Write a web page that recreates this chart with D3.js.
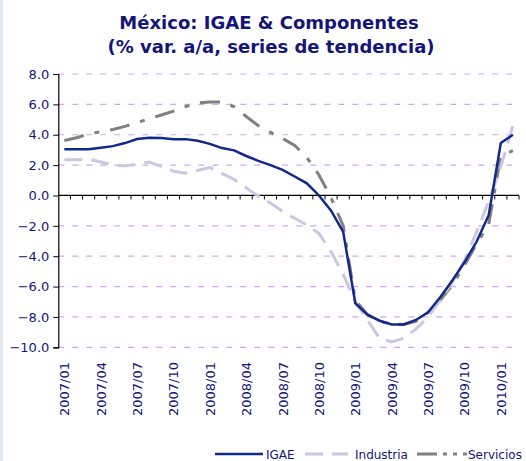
<!DOCTYPE html>
<html>
<head>
<meta charset="utf-8">
<script src="https://cdn.jsdelivr.net/npm/d3@7"></script>
<style>
  body { margin: 0; background: #fff; }
  svg { display: block; }
  text { font-family: Tahoma, "DejaVu Sans", sans-serif; fill: #14147a; }
</style>
</head>
<body>
<script>
// monthly periods, 2007/01 .. 2010/02
const months = [];
for (let yr = 2007; yr <= 2010; yr++) {
  for (let m = 1; m <= 12; m++) {
    if (yr === 2010 && m > 2) break;
    months.push(yr + "/" + String(m).padStart(2, "0"));
  }
}

const igae = [3.05, 3.05, 3.05, 3.15, 3.25, 3.45, 3.72, 3.8, 3.78, 3.71, 3.71, 3.6,
  3.4, 3.12, 2.97, 2.6, 2.28, 2.0, 1.68, 1.25, 0.8, 0.0, -1.0, -2.4,
  -7.1, -7.85, -8.25, -8.5, -8.5, -8.2, -7.7, -6.7, -5.6, -4.4, -3.05, -1.3,
  3.45, 4.0];

const industria = [2.35, 2.35, 2.4, 2.2, 2.0, 1.95, 2.05, 2.2, 1.9, 1.6, 1.47, 1.65,
  1.85, 1.45, 1.05, 0.5, -0.05, -0.5, -1.05, -1.5, -1.95, -2.5, -3.7, -5.2,
  -7.0, -8.2, -9.4, -9.65, -9.4, -8.8, -8.0, -6.9, -5.7, -4.3, -2.4, -0.4,
  1.9, 4.6];

const servicios = [3.62, 3.8, 4.05, 4.2, 4.35, 4.55, 4.8, 5.05, 5.3, 5.55, 5.85, 6.1,
  6.15, 6.15, 5.85, 5.2, 4.6, 4.15, 3.75, 3.3, 2.5, 1.35, -0.15, -2.0,
  -6.9, -7.85, -8.3, -8.45, -8.5, -8.3, -7.7, -6.9, -5.9, -4.6, -3.2, -1.9,
  2.6, 2.95];

const yTicks = [-10, -8, -6, -4, -2, 0, 2, 4, 6, 8];

const series = [
  { name: "IGAE", values: igae, color: "#12288c", width: 2.5, dash: null, legendDash: null },
  { name: "Industria", values: industria, color: "#c8c8e2", width: 3, dash: "18,9", legendDash: "18,9" },
  { name: "Servicios", values: servicios, color: "#808080", width: 3, dash: "20,11,5,11", legendDash: "20,6,4,6,4,6,4" }
];

const width = 526;
const height = 461;
const plotLeft = 58.3, plotRight = 519, plotTop = 74, plotBottom = 347.3;

const svg = d3.select("body").append("svg")
  .attr("width", width)
  .attr("height", height);

// light strip at left edge
svg.append("rect").attr("x", 0).attr("y", 0).attr("width", 3).attr("height", height)
  .attr("fill", "#e2eaf2");

const x = d3.scaleBand().domain(months).range([plotLeft, plotRight]);
const y = d3.scaleLinear().domain([-10, 8]).range([plotBottom, plotTop]);
const xc = d => x(d) + x.bandwidth() / 2;

// title
svg.append("text").attr("x", 269).attr("y", 29).attr("text-anchor", "middle")
  .style("font-size", "18px").style("font-weight", "bold")
  .text("México: IGAE & Componentes");
svg.append("text").attr("x", 271).attr("y", 53).attr("text-anchor", "middle")
  .style("font-size", "18px").style("font-weight", "bold")
  .text("(% var. a/a, series de tendencia)");

// grid lines
svg.append("g").selectAll("line").data(yTicks.filter(d => d !== 0)).join("line")
  .attr("x1", plotLeft).attr("x2", 512)
  .attr("y1", d => y(d)).attr("y2", d => y(d))
  .attr("stroke", "#cfa6f6").attr("stroke-width", 1.2)
  .attr("stroke-dasharray", "6,8");

// y axis
const yAxis = svg.append("g")
  .attr("transform", `translate(${plotLeft},0)`)
  .call(d3.axisLeft(y).tickValues(yTicks).tickFormat(d3.format(".1f")).tickSize(5).tickPadding(4));
yAxis.select(".domain").attr("stroke", "#000").attr("stroke-width", 1.2);
yAxis.selectAll(".tick line").attr("stroke", "#000");
yAxis.selectAll("text").style("font-size", "13px").attr("fill", "#14147a")
  .style("font-family", "Tahoma, 'DejaVu Sans', sans-serif");

// zero axis line with ticks at period boundaries
svg.append("line").attr("x1", plotLeft).attr("x2", plotRight)
  .attr("y1", y(0)).attr("y2", y(0)).attr("stroke", "#000").attr("stroke-width", 1.2);
svg.append("g").selectAll("line").data(months).join("line")
  .attr("x1", d => x(d) + x.bandwidth()).attr("x2", d => x(d) + x.bandwidth())
  .attr("y1", y(0)).attr("y2", y(0) + 4)
  .attr("stroke", "#000");

// x labels, every third month
svg.append("g").selectAll("text").data(months.filter((d, i) => i % 3 === 0)).join("text")
  .attr("transform", d => `translate(${xc(d) + 5},362) rotate(-90)`)
  .attr("text-anchor", "end")
  .style("font-size", "13px")
  .text(d => d);

// series lines
const line = d3.line().x((d, i) => xc(months[i])).y(d => y(d));
svg.append("g").selectAll("path").data(series.slice().reverse()).join("path")
  .attr("d", d => line(d.values))
  .attr("fill", "none")
  .attr("stroke", d => d.color)
  .attr("stroke-width", d => d.width)
  .attr("stroke-dasharray", d => d.dash);

// legend
const legendX = [215, 305, 417];
const legend = svg.append("g").selectAll("g").data(series).join("g")
  .attr("transform", (d, i) => `translate(${legendX[i]},454)`);
legend.append("line").attr("x1", 0).attr("x2", (d, i) => [48, 43, 50][i])
  .attr("stroke", d => d.color).attr("stroke-width", d => d.width)
  .attr("stroke-dasharray", d => d.legendDash);
legend.append("text").attr("x", (d, i) => [51, 50, 51][i]).attr("y", 5)
  .style("font-size", "12px").text(d => d.name);
</script>
</body>
</html>
